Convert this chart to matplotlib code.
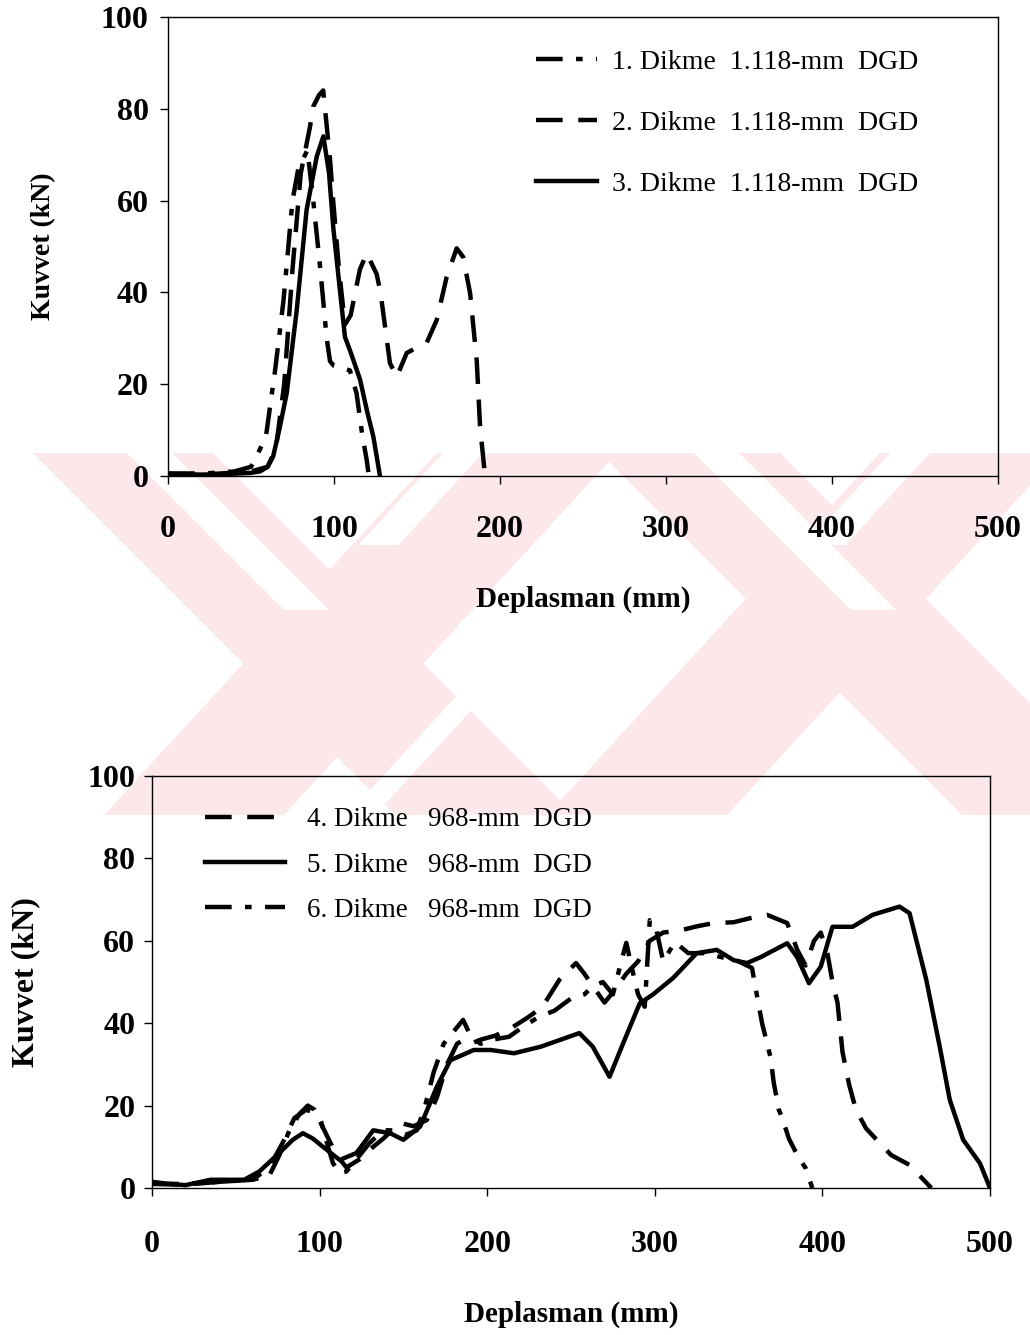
import matplotlib
matplotlib.use("Agg")
import matplotlib.pyplot as plt
from matplotlib.patches import Polygon

plt.rcParams['font.family'] = ['Liberation Serif', 'DejaVu Serif']

# --- top chart: 1.118-mm DGD ---
d1_x = [0, 20, 40, 50, 53, 59, 64.5, 69.5, 75, 78.5, 84, 87.5, 91.6, 95.6, 97.6, 100, 105, 109.6, 113.6, 117, 119.7, 121]
d1_y = [0.5, 0.5, 1, 2, 4, 8.6, 23, 38, 60, 67, 71, 60, 45.6, 30, 25, 24, 23.5, 23, 18, 9, 3.5, 0]

d2_x = [0, 30, 50, 60, 65, 70, 75, 80, 85.5, 87.5, 91, 93.5, 97.6, 99.5, 103, 106.6, 110, 115.6, 119.7, 125.7, 128, 133.7, 137.8,
        143.8, 150, 155.8, 161.9, 167.9, 173.9, 177.8, 182, 186, 188, 191]
d2_y = [0.5, 0.5, 1, 2, 6, 20, 45, 66, 76, 80.5, 83, 84, 69, 60, 45, 33, 35, 45, 48.5, 44, 40, 24.6, 21.6,
        26.8, 28, 29, 34, 43.4, 49.6, 47.7, 39.8, 25, 10.7, 0]

d3_x = [0, 20, 40, 50, 55.4, 60, 63.3, 67, 71.5, 77.5, 83.5, 89.6, 93.6, 97, 99.6, 104.6, 106.6, 110, 115.7, 120, 123.7, 127.7]
d3_y = [0.5, 0.3, 0.5, 0.7, 1, 2, 4.2, 10, 18, 36, 58, 69.6, 74, 66, 54, 37, 30.3, 27, 21, 14, 8.6, 0]

top_labels = ['1. Dikme  1.118-mm  DGD', '2. Dikme  1.118-mm  DGD', '3. Dikme  1.118-mm  DGD']

# --- bottom chart: 968-mm DGD ---
d4_x = [0, 20, 40, 60, 70, 78, 85, 92, 98, 104, 110, 116, 124, 132, 138, 148, 156, 164, 170, 176, 182, 186, 190, 196, 205,
        215, 225, 233, 243, 253, 258, 263, 270, 276, 283, 290, 297, 305, 315, 325, 335, 347, 357, 367, 379, 385, 390, 395,
        399, 403, 406, 409, 412, 416, 420, 426, 434, 441, 452, 458, 465]
d4_y = [1, 0.8, 1.5, 2, 5, 11, 17, 19, 18, 13, 8, 5, 7, 10, 12, 15.8, 15, 16.5, 22, 30, 35, 36, 35, 36, 37,
        39, 41.6, 44, 50.5, 54.6, 52, 49, 45, 48, 52, 55, 60, 62, 62.5, 63.5, 64.3, 64.5, 65.5, 66.3, 64.3, 57.8, 54, 60,
        62, 57, 50, 45, 33, 25, 19, 14.5, 11, 8, 5.6, 3, 0]

d5_x = [0, 10, 20, 35, 55, 64, 76, 84, 90, 96, 102, 112, 122, 132, 142, 150, 160, 170, 178, 192, 202, 216, 232, 255, 263,
        273, 281, 291, 299, 311, 325, 337, 347, 355, 363, 379, 385, 392, 399, 406, 418, 430, 446, 452, 462, 470, 476,
        484, 494, 500]
d5_y = [1.5, 1, 0.7, 2, 2, 4, 8.5, 11.7, 13.3, 12, 10, 6.8, 8.5, 14, 13.3, 11.7, 14.9, 24.6, 31, 33.5, 33.5, 32.7, 34.3, 37.6, 34.3,
        27, 35, 44.8, 47, 51, 57, 57.8, 55.3, 54.6, 56, 59.4, 56, 49.7, 53.7, 63.4, 63.4, 66.3, 68.3, 66.7, 50.5, 34.3, 21.4,
        11.7, 6, 0]

d6_x = [0, 20, 40, 60, 70, 76, 82, 88, 93, 97, 101, 105, 108, 112, 116, 122, 130, 138, 146, 152, 158, 163, 168, 174, 180,
        185.6, 190, 196, 203, 213, 221, 231, 240, 250, 258, 263, 269, 275, 280, 283, 286, 290, 294, 297, 301, 305, 312,
        320, 330, 340, 350, 358, 361, 364, 369, 371, 374, 376, 380, 385, 390, 394]
d6_y = [1, 1, 1.5, 2, 3, 8, 14, 18, 20, 19, 16, 10, 6, 3.6, 4, 7, 11, 14, 14, 13, 14, 20, 28, 35, 38,
        40.8, 37, 35, 36, 36.7, 39, 41.6, 43, 46, 47, 49, 50, 47, 55, 59.5, 54, 47, 44, 65, 62.6, 55, 59.7,
        57, 57, 56, 55, 53.4, 46.6, 40, 31.8, 25.5, 19, 17, 12, 8, 4.8, 0]

bottom_labels = ['4. Dikme   968-mm  DGD', '5. Dikme   968-mm  DGD', '6. Dikme   968-mm  DGD']

x_ticks = [0, 100, 200, 300, 400, 500]
y_ticks = [0, 20, 40, 60, 80, 100]

W, H = 1030, 1335
fig = plt.figure(figsize=(W / 100, H / 100), dpi=100)


# faint pink watermark behind the charts (pixel coords -> figure fraction)
def px(pts):
    return [(x / W, 1 - y / H) for x, y in pts]


def band(x0, slope, y0=453, y1=815, width=180):
    # parallelogram whose left edge starts at x0 on y0 and moves by slope per px down
    d = (y1 - y0) * slope
    return [(x0, y0), (x0 + width, y0), (x0 + width + d, y1), (x0 + d, y1)]


pink = '#fce7eb'
wm = [band(33, 1.0), band(437, -0.92), band(600, 1.0), band(880, -0.92)]
for b in wm:
    fig.patches.append(Polygon(px(b), closed=True, transform=fig.transFigure,
                               facecolor=pink, edgecolor='none', zorder=-5))
# white stripes cut through the bands
stripes = [band(127, 1.0, y1=610, width=45), band(443, -0.92, y1=545, width=40),
           band(520, -0.92, y0=627, y1=815, width=28), band(694, 1.0, y1=610, width=45),
           band(890, -0.92, y1=545, width=40)]
for s in stripes:
    fig.patches.append(Polygon(px(s), closed=True, transform=fig.transFigure,
                               facecolor='white', edgecolor='none', zorder=-4))

dash = (6, 3.5)
dashdot = (6, 3, 1.5, 3)
lw = 3.2


def style_axes(ax, xpad, ypad):
    ax.set_xlim(0, 500)
    ax.set_ylim(0, 100)
    ax.set_xticks(x_ticks)
    ax.set_yticks(y_ticks)
    ax.patch.set_alpha(0)
    for s in ax.spines.values():
        s.set_linewidth(1.0)
    ax.tick_params(direction='out', length=6, width=1, labelsize=23, pad=xpad, axis='x')
    ax.tick_params(direction='out', length=6, width=1, labelsize=23, pad=ypad, axis='y')
    for t in ax.get_xticklabels() + ax.get_yticklabels():
        t.set_fontweight('bold')


# top
ax1 = fig.add_axes([168 / W, 1 - 476 / H, 830 / W, 459 / H])
ax1.plot(d1_x, d1_y, color='black', lw=lw, dashes=dashdot, label=top_labels[0])
ax1.plot(d2_x, d2_y, color='black', lw=lw, dashes=dash, label=top_labels[1])
ax1.plot(d3_x, d3_y, color='black', lw=lw, label=top_labels[2])
style_axes(ax1, 22, 8)
ax1.set_xlabel('Deplasman (mm)', fontsize=21, fontweight='bold', labelpad=30)
ax1.set_ylabel('Kuvvet (kN)', fontsize=20, fontweight='bold', labelpad=32)
ax1.legend(loc='upper left', bbox_to_anchor=(0.443, 0.930), frameon=False, fontsize=20,
           handlelength=2.2, handletextpad=0.55, labelspacing=1.28, borderpad=0, borderaxespad=0)

# bottom
ax2 = fig.add_axes([152 / W, 1 - 1188 / H, 838 / W, 412 / H])
ax2.plot(d4_x, d4_y, color='black', lw=lw, dashes=dash, label=bottom_labels[0])
ax2.plot(d5_x, d5_y, color='black', lw=lw, label=bottom_labels[1])
ax2.plot(d6_x, d6_y, color='black', lw=lw, dashes=dashdot, label=bottom_labels[2])
style_axes(ax2, 24, 6)
ax2.set_xlabel('Deplasman (mm)', fontsize=21, fontweight='bold', labelpad=30)
ax2.set_ylabel('Kuvvet (kN)', fontsize=23, fontweight='bold', labelpad=34)
ax2.legend(loc='upper left', bbox_to_anchor=(0.063, 0.924), frameon=False, fontsize=19.5,
           handlelength=2.95, handletextpad=0.81, labelspacing=0.75, borderpad=0, borderaxespad=0)

fig.savefig('out.png', dpi=100)
